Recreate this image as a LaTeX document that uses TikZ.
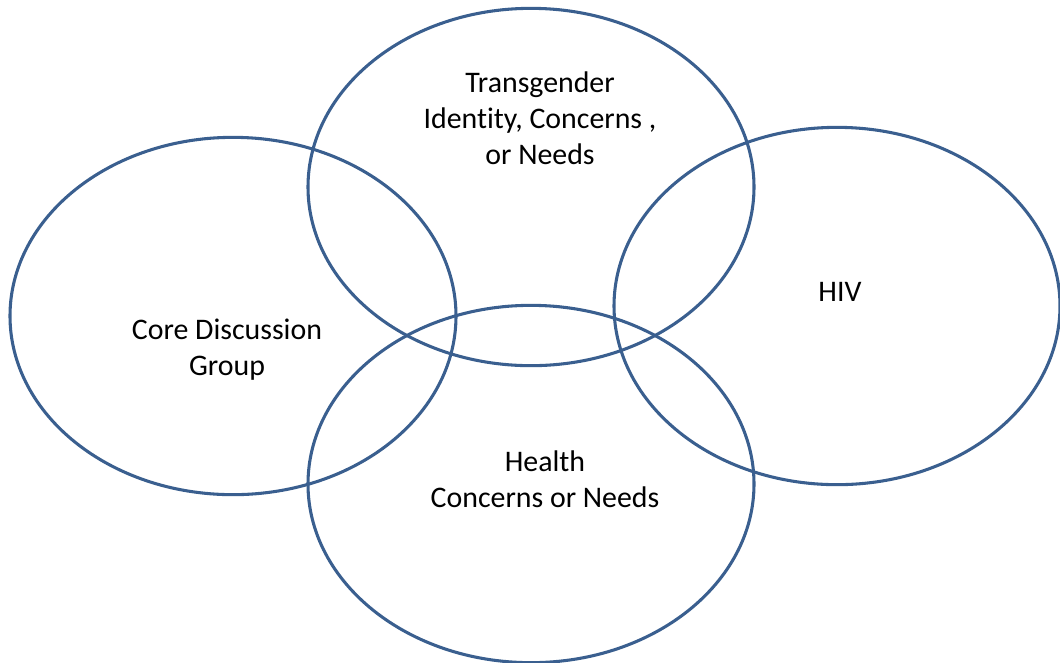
\documentclass[tikz,border=0pt]{standalone}
\usepackage{fontspec}
\setmainfont{Carlito}[Ligatures=CommonOff]
\usepackage{tikz}
\usetikzlibrary{shapes.geometric}
\usetikzlibrary{positioning}
\definecolor{ringblue}{HTML}{3A5F8F}
\tikzset{ring/.style = {draw=ringblue, line width=2.3pt, ellipse, inner sep=0, minimum width=334.5pt, minimum height=268pt}}
\tikzstyle{lbl} = [draw=none, inner sep = 0, align=center, font=\fontsize{22.4}{27}\selectfont]

\begin{document}
\begin{tikzpicture}[x=0.75pt, y=-0.75pt]
\useasboundingbox (0, 0) rectangle (1060, 662);
\node [ring] (core) at (233, 316) {};
\node [ring] (trans) at (531, 187) {};
\node [ring] (hiv) at (837, 306) {};
\node [ring] (health) at (531, 484) {};
\node [lbl] (coreL) at (227, 350) {Core Discussion\\Group};
\node [lbl] (transL) at (540, 118) {Transgender\\Identity, Concerns ,\\or Needs};
\node [lbl] (hivL) at (840, 292) {HIV};
\node [lbl] (healthL) at (545, 479) {Health\\Concerns or Needs};
\end{tikzpicture}
\end{document}
